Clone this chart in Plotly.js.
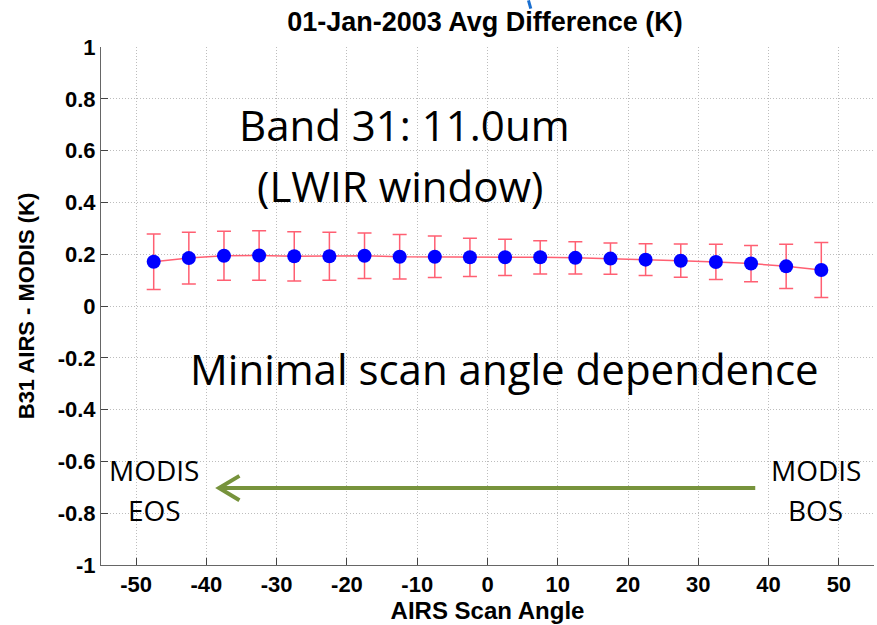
<!DOCTYPE html>
<html><head><meta charset="utf-8">
<script src="https://cdn.plot.ly/plotly-3.0.1.min.js"></script>
<style>html,body{margin:0;padding:0;background:#fff}#c{width:877px;height:625px}</style>
</head><body><div id="c"></div>
<script>
var scanAngle = [-47.5,-42.5,-37.5,-32.5,-27.5,-22.5,-17.5,-12.5,-7.5,-2.5,2.5,7.5,12.5,17.5,22.5,27.5,32.5,37.5,42.5,47.5];
var avgDiff = [0.171,0.185,0.194,0.195,0.192,0.192,0.194,0.190,0.190,0.188,0.188,0.188,0.186,0.183,0.179,0.175,0.170,0.164,0.153,0.139];
var stdDiff = [0.107,0.100,0.095,0.096,0.095,0.093,0.088,0.086,0.080,0.074,0.070,0.064,0.062,0.060,0.061,0.064,0.068,0.070,0.085,0.106];
var xTicks = [-50,-40,-30,-20,-10,0,10,20,30,40,50];
var yTicks = [-1,-0.8,-0.6,-0.4,-0.2,0,0.2,0.4,0.6,0.8,1];
var yTickText = ['-1','-0.8','-0.6','-0.4','-0.2','0','0.2','0.4','0.6','0.8','1'];

var axFamily = 'Liberation Sans, Arial, sans-serif';
var annFont = 'Open Sans, Noto Sans, sans-serif';

var trace = {
  x: scanAngle, y: avgDiff, type:'scatter', mode:'lines+markers',
  line:{color:'#ff5f72', width:1.5},
  marker:{color:'#0000ff', size:14},
  error_y:{type:'data', array:stdDiff, visible:true, color:'#ff5f72', thickness:1.5, width:7}
};

var grid = {showgrid:true, gridcolor:'#bdbdbd', griddash:'1px,2px', gridwidth:1, zeroline:false};

var layout = {
  width:877, height:625,
  margin:{l:101, r:3, t:47, b:60},
  paper_bgcolor:'#fff', plot_bgcolor:'#fff',
  showlegend:false,
  title:{text:'<b>01-Jan-2003 Avg Difference (K)</b>', font:{family:axFamily, size:27, color:'#000'}, x:0.553, xanchor:'center', y:0.966, yanchor:'middle'},
  xaxis:Object.assign({range:[-55,55], tickvals:xTicks, ticktext:xTicks.map(function(v){return '<b>'+v+'</b>';}),
    ticks:'inside', ticklen:7, tickcolor:'#444', showline:true, linecolor:'#666', linewidth:1,
    tickfont:{family:axFamily, size:22, color:'#000'}, automargin:false,
    title:{text:'<b>AIRS Scan Angle</b>', font:{family:axFamily, size:24, color:'#000'}, standoff:4}}, grid),
  yaxis:Object.assign({range:[-1,1], tickvals:yTicks, ticktext:yTickText.map(function(v){return '<b>'+v+'</b>';}),
    ticks:'inside', ticklen:7, tickcolor:'#444', showline:true, linecolor:'#666', linewidth:1,
    tickfont:{family:axFamily, size:22, color:'#000'}, automargin:false,
    title:{text:'<b>B31 AIRS - MODIS (K)</b>', font:{family:axFamily, size:22, color:'#000'}, standoff:16}}, grid),
  annotations:[
    {xref:'x', yref:'y', x:-11.8, y:0.70, text:'Band 31: 11.0um', showarrow:false, font:{family:annFont, size:42, color:'#000'}},
    {xref:'x', yref:'y', x:-12.4, y:0.467, text:'(LWIR window)', showarrow:false, font:{family:annFont, size:42, color:'#000'}},
    {xref:'x', yref:'y', x:2.4, y:-0.24, text:'Minimal scan angle dependence', showarrow:false, font:{family:annFont, size:42, color:'#000'}},
    {xref:'x', yref:'y', x:-47.4, y:-0.633, text:'MODIS', showarrow:false, font:{family:annFont, size:28, color:'#000'}},
    {xref:'x', yref:'y', x:-47.4, y:-0.788, text:'EOS', showarrow:false, font:{family:annFont, size:28, color:'#000'}},
    {xref:'x', yref:'y', x:46.7, y:-0.633, text:'MODIS', showarrow:false, font:{family:annFont, size:28, color:'#000'}},
    {xref:'x', yref:'y', x:46.7, y:-0.788, text:'BOS', showarrow:false, font:{family:annFont, size:28, color:'#000'}}
  ],
  shapes:[
    {type:'line', xref:'x', yref:'y', x0:38.1, x1:-38.0, y0:-0.703, y1:-0.703, line:{color:'#77933c', width:4}},
    {type:'path', xref:'x', yref:'y', path:'M -35.3 -0.656 L -38.2 -0.703 L -35.3 -0.750', line:{color:'#77933c', width:4}},
    {type:'line', xref:'paper', yref:'paper', x0:0.553, x1:0.556, y0:1.09, y1:1.074, line:{color:'#1a6fd0', width:3}}
  ]
};
Plotly.newPlot('c', [trace], layout, {displayModeBar:false, staticPlot:true});
</script></body></html>
